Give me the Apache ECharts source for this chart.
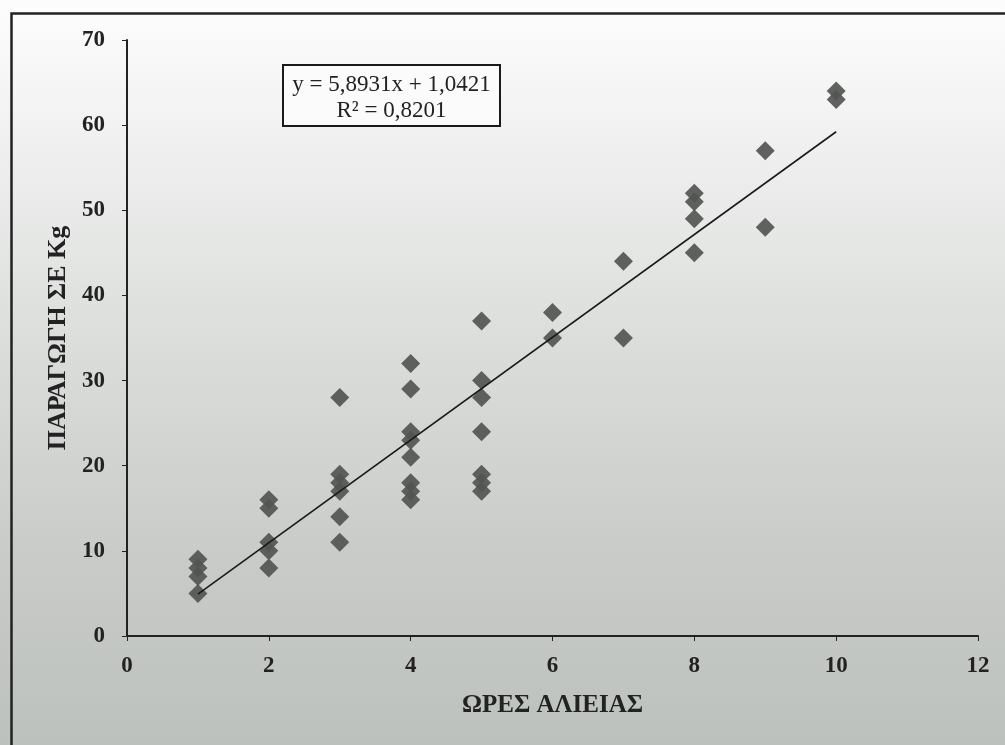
<!DOCTYPE html>
<html>
<head>
<meta charset="utf-8">
<script src="https://cdn.jsdelivr.net/npm/echarts@6/dist/echarts.min.js"></script>
<style>
html,body{margin:0;padding:0;background:#fff;}
#chart{width:1005px;height:745px;}
</style>
</head>
<body>
<div id="chart"></div>
<script>
// ---- data ----
const hours = [1,1,1,1, 2,2,2,2,2, 3,3,3,3,3,3, 4,4,4,4,4,4,4,4, 5,5,5,5,5,5,5, 6,6, 7,7, 8,8,8,8, 9,9, 10,10];
const kg    = [9,8,7,5, 16,15,11,10,8, 28,19,18,17,14,11, 32,29,24,23,21,18,17,16, 37,30,28,24,19,18,17, 38,35, 44,35, 52,51,49,45, 57,48, 64,63];
const xTicks = [0,2,4,6,8,10,12];
const yTicks = [0,10,20,30,40,50,60,70];
const equationText = "y = 5,8931x + 1,0421";
const r2Text = "R² = 0,8201";
const xName = "ΩΡΕΣ ΑΛΙΕΙΑΣ";
const yName = "ΠΑΡΑΓΩΓΗ ΣΕ Kg";

// least-squares trend line from the points
const n = hours.length;
const mx = hours.reduce((a,b)=>a+b,0)/n;
const my = kg.reduce((a,b)=>a+b,0)/n;
let sxy=0, sxx=0;
for(let i=0;i<n;i++){ sxy+=(hours[i]-mx)*(kg[i]-my); sxx+=(hours[i]-mx)**2; }
const slope = sxy/sxx, intercept = my - slope*mx;
const xMin = Math.min(...hours), xMax = Math.max(...hours);
const trend = [[xMin, slope*xMin+intercept],[xMax, slope*xMax+intercept]];

const pts = hours.map((h,i)=>[h,kg[i]]);
const serif = '"Liberation Serif","DejaVu Serif",serif';

const chart = echarts.init(document.getElementById('chart'));
chart.setOption({
  animation:false,
  backgroundColor:{
    type:'linear', x:0, y:0, x2:0, y2:1,
    colorStops:[
      {offset:0, color:'#fdfdfd'},
      {offset:0.15, color:'#f2f3f2'},
      {offset:0.45, color:'#dcdedc'},
      {offset:0.75, color:'#c8cbc8'},
      {offset:1, color:'#bdc1be'}
    ]
  },
  grid:{left:127, top:40, right:27, bottom:109},
  xAxis:{
    type:'value', min:0, max:12, interval:2,
    name:xName, nameLocation:'middle', nameGap:57,
    nameTextStyle:{fontFamily:serif, fontSize:25, fontWeight:'bold', color:'#222'},
    axisLine:{show:true, onZero:false, lineStyle:{color:'#222', width:2}},
    axisTick:{show:true, length:5, lineStyle:{color:'#222'}},
    axisLabel:{fontFamily:serif, fontSize:23, fontWeight:'bold', color:'#222', margin:19,
      formatter:v=>xTicks.includes(v)?String(v):''},
    splitLine:{show:false}
  },
  yAxis:{
    type:'value', min:0, max:70, interval:10,
    name:yName, nameLocation:'middle', nameGap:55, nameRotate:90,
    nameTextStyle:{fontFamily:serif, fontSize:26, fontWeight:'bold', color:'#222'},
    axisLine:{show:true, onZero:false, lineStyle:{color:'#222', width:2}},
    axisTick:{show:true, length:5, lineStyle:{color:'#222'}},
    axisLabel:{fontFamily:serif, fontSize:23, fontWeight:'bold', color:'#222', margin:22,
      formatter:v=>yTicks.includes(v)?String(v):''},
    splitLine:{show:false}
  },
  series:[
    {
      type:'scatter', data:pts, symbol:'diamond', symbolSize:[19,19],
      itemStyle:{color:'#525552', opacity:0.92}, z:3
    },
    {
      type:'line', data:trend, symbol:'none', showSymbol:false,
      lineStyle:{color:'#1a1a1a', width:1.6}, z:4
    }
  ],
  graphic:[
    {type:'rect', left:9, top:11, shape:{width:1010, height:750},
      style:{fill:null, stroke:'#222', lineWidth:2.5}, silent:true, z:100},
    {type:'group', left:282, top:64, z:50, children:[
      {type:'rect', shape:{x:0,y:0,width:217,height:61},
        style:{fill:'#fbfbfb', stroke:'#1a1a1a', lineWidth:2}},
      {type:'text', x:108.5, y:20, style:{text:equationText, fontFamily:serif, fontSize:23,
        fill:'#222', textAlign:'center', textVerticalAlign:'middle'}},
      {type:'text', x:108.5, y:46, style:{text:r2Text, fontFamily:serif, fontSize:23,
        fill:'#222', textAlign:'center', textVerticalAlign:'middle'}}
    ]}
  ]
});
</script>
</body>
</html>
